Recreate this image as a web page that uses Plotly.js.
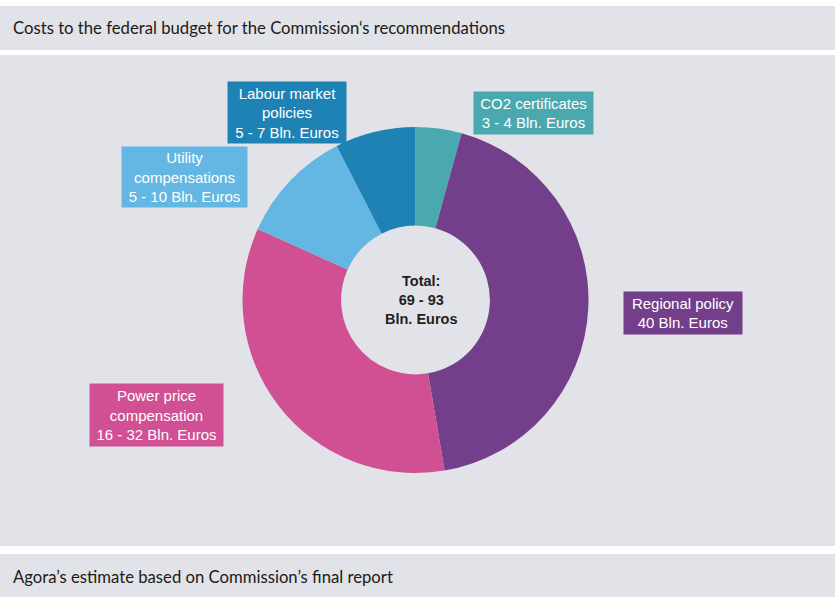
<!DOCTYPE html>
<html>
<head>
<meta charset="utf-8">
<script src="https://cdn.plot.ly/plotly-3.0.1.min.js"></script>
<style>html,body{margin:0;padding:0;background:#fff;}#chart{width:835px;height:597px;}</style>
</head>
<body>
<div id="chart"></div>
<script>
// ---- data ----
const categories = ["CO2 certificates", "Regional policy", "Power price<br>compensation", "Utility<br>compensations", "Labour market<br>policies"];
const lowValues  = [3, 40, 16, 5, 5];
const highValues = [4, 40, 32, 10, 7];
const colors = ["#4aa9ae", "#733f8a", "#d14f93", "#64b7e3", "#1f82b4"];
const totalLow = 69, totalHigh = 93;

const W = 835, H = 597;
const px = x => x / W;
const py = y => 1 - y / H;

const cx = 415.5, cy = 300, R = 173;

const trace = {
  type: "pie",
  labels: categories,
  values: highValues,
  sort: false,
  direction: "clockwise",
  rotation: 0,
  hole: 0.43,
  textinfo: "none",
  hoverinfo: "label+value",
  marker: {colors: colors, line: {width: 0}},
  domain: {x: [px(cx - R), px(cx + R)], y: [py(cy + R), py(cy - R)]},
  showlegend: false
};

function rangeText(i) {
  return lowValues[i] === highValues[i] ? lowValues[i] + " Bln. Euros" : lowValues[i] + " - " + highValues[i] + " Bln. Euros";
}

// label boxes (pixel boxes: x0, x1, y0, y1)
const boxes = [
  [474, 593, 92, 134],
  [624, 742, 292, 334],
  [90, 223, 384, 446],
  [122, 247, 147, 207],
  [228, 346, 82, 143]
];

const annotations = categories.map((c, i) => {
  const b = boxes[i];
  return {
    xref: "paper", yref: "paper",
    x: px((b[0] + b[1]) / 2), y: py((b[2] + b[3]) / 2),
    xanchor: "center", yanchor: "middle",
    text: c + "<br>" + rangeText(i),
    showarrow: false,
    bgcolor: colors[i],
    borderpad: 0,
    width: b[1] - b[0], height: b[3] - b[2],
    font: {family: "Liberation Sans, Arial, sans-serif", size: 15, color: "#ffffff"},
    align: "center"
  };
});

annotations.push({
  xref: "paper", yref: "paper", x: px(421), y: py(300),
  xanchor: "center", yanchor: "middle", showarrow: false,
  text: "<b>Total:<br>" + totalLow + " - " + totalHigh + "<br>Bln. Euros</b>",
  font: {family: "Liberation Sans, Arial, sans-serif", size: 14.5, color: "#231f20"},
  align: "center"
});
annotations.push({
  xref: "paper", yref: "paper", x: px(11), y: py(28),
  xanchor: "left", yanchor: "middle", showarrow: false,
  text: "Costs to the federal budget for the Commission‘s recommendations",
  font: {family: "Lato, sans-serif", size: 16.7, color: "#1a1a1a"}
});
annotations.push({
  xref: "paper", yref: "paper", x: px(11), y: py(577),
  xanchor: "left", yanchor: "middle", showarrow: false,
  text: "Agora’s estimate based on Commission’s final report",
  font: {family: "Lato, sans-serif", size: 16.7, color: "#1a1a1a"}
});

const panel = "#e2e3e8";
const shapes = [
  [0, 835, 6, 50], [0, 835, 55, 546], [0, 835, 554, 597]
].map(r => ({
  type: "rect", xref: "paper", yref: "paper", layer: "below",
  x0: px(r[0]), x1: px(r[1]), y0: py(r[3]), y1: py(r[2]),
  fillcolor: panel, line: {width: 0}
}));

const layout = {
  width: W, height: H,
  margin: {l: 0, r: 0, t: 0, b: 0},
  paper_bgcolor: "#ffffff",
  plot_bgcolor: "rgba(0,0,0,0)",
  shapes: shapes,
  annotations: annotations,
  showlegend: false
};

Plotly.newPlot("chart", [trace], layout, {displayModeBar: false, staticPlot: true});
</script>
</body>
</html>
